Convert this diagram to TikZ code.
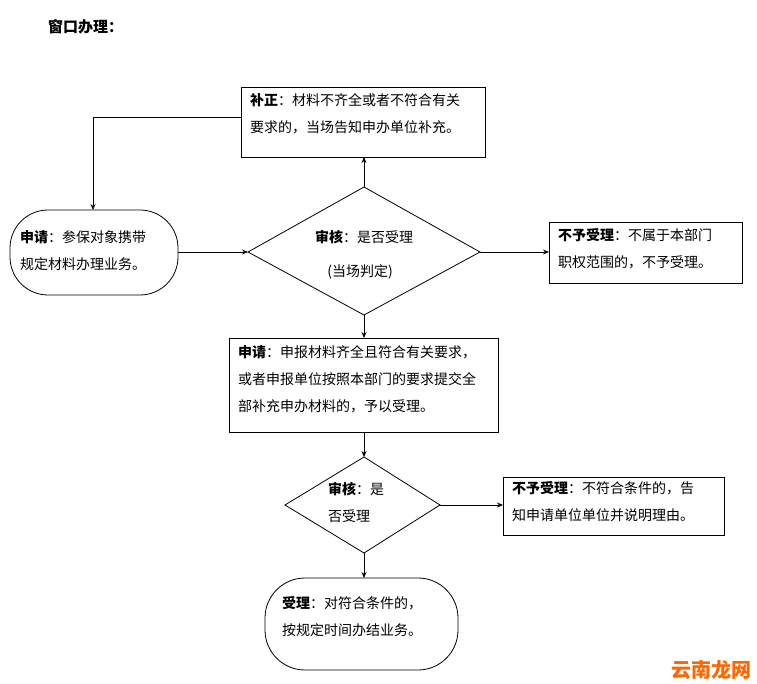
\documentclass[tikz,border=0pt]{standalone}
\usepackage{fontspec}
\setmainfont{Noto Sans CJK SC}
\usetikzlibrary{shapes.geometric,arrows.meta}
\begin{document}
\begin{tikzpicture}[x=1pt,y=-1pt,font=\fontsize{14}{27}\selectfont,
 box/.style={draw,line width=0.8pt},
 arr/.style={-{Stealth[length=6pt,width=5pt]},line width=0.8pt},
 txt/.style={align=left,anchor=north west,inner sep=0pt}]
\useasboundingbox (0,0) rectangle (757,684);
\node[anchor=west,inner sep=0pt,font=\fontsize{15}{16}\selectfont\bfseries] (title) at (48,27) {窗口办理：};
% boxes
\draw[box] (241,87) rectangle (485,157);
\node[txt] (t1) at (250,93) {\textbf{补正}：材料不齐全或者不符合有关\\要求的，当场告知申办单位补充。};
\draw[box,rounded corners=38pt] (10,210) rectangle (178,295);
\node[txt] (t2) at (20,230) {\textbf{申请}：参保对象携带\\规定材料办理业务。};
\draw[box] (248,252) -- (364,187) -- (480,252) -- (364,315) -- cycle;
\node (d1t) at (364,237) {\textbf{审核}：是否受理};
\node (d1b) at (360,272) {(当场判定)};
\draw[box] (549,222) rectangle (742,283);
\node[txt] (t3) at (558,228) {\textbf{不予受理}：不属于本部门\\职权范围的，不予受理。};
\draw[box] (229,338) rectangle (498,432);
\node[txt] (t4) at (238,345) {\textbf{申请}：申报材料齐全且符合有关要求，\\或者申报单位按照本部门的要求提交全\\部补充申办材料的，予以受理。};
\draw[box] (285,505) -- (364,457) -- (440,505) -- (364,553) -- cycle;
\node[txt] (t5) at (328,482) {\textbf{审核}：是\\否受理};
\draw[box] (503,477) rectangle (724,535);
\node[txt] (t6) at (512,481) {\textbf{不予受理}：不符合条件的，告\\知申请单位单位并说明理由。};
\draw[box,rounded corners=40pt] (265,578) rectangle (458,670);
\node[txt] (t7) at (282,596) {\textbf{受理}：对符合条件的，\\按规定时间办结业务。};
\node[anchor=south east,inner sep=0pt,text=orange!80!red,font=\fontsize{20}{22}\selectfont\bfseries] (wm) at (752,680) {云南龙网};
% arrows
\coordinate (a1) at (178,252); \coordinate (a2) at (248,252);
\draw[arr] (a1) -- (a2);
\coordinate (b1) at (364,187); \coordinate (b2) at (364,157);
\draw[arr] (b1) -- (b2);
\coordinate (c1) at (241,117); \coordinate (c2) at (93,210);
\draw[arr] (c1) -| (c2);
\coordinate (e1) at (480,252); \coordinate (e2) at (549,252);
\draw[arr] (e1) -- (e2);
\coordinate (f1) at (364,315); \coordinate (f2) at (364,338);
\draw[arr] (f1) -- (f2);
\coordinate (g1) at (364,432); \coordinate (g2) at (364,457);
\draw[arr] (g1) -- (g2);
\coordinate (h1) at (440,505); \coordinate (h2) at (503,505);
\draw[arr] (h1) -- (h2);
\coordinate (i1) at (364,553); \coordinate (i2) at (364,578);
\draw[arr] (i1) -- (i2);
\end{tikzpicture}
\end{document}
